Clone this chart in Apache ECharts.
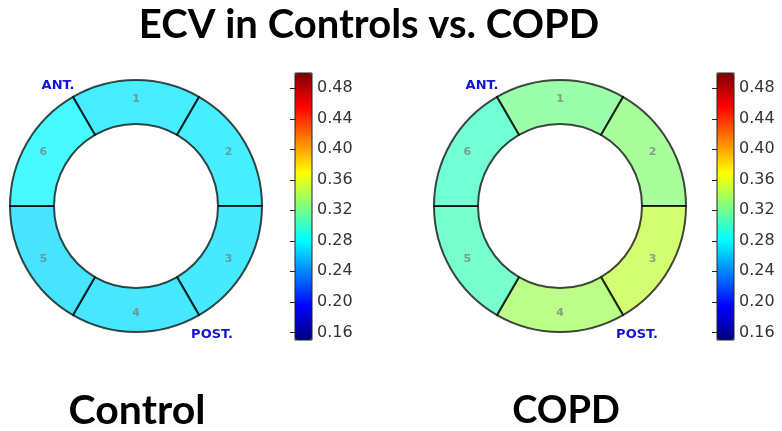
<!DOCTYPE html>
<html>
<head>
<meta charset="utf-8">
<script src="https://cdn.jsdelivr.net/npm/echarts@6/dist/echarts.min.js"></script>
<style>html,body{margin:0;padding:0;background:#fff}#c{width:782px;height:431px}</style>
</head>
<body>
<div id="c"></div>
<script>
// ---- data ----
var segments = ['1', '2', '3', '4', '5', '6'];
var controlECV = [0.272, 0.273, 0.271, 0.270, 0.268, 0.279];
var copdECV = [0.322, 0.328, 0.348, 0.337, 0.305, 0.302];
var tickLabels = [0.16, 0.20, 0.24, 0.28, 0.32, 0.36, 0.40, 0.44, 0.48];
var scaleMin = 0.15, scaleMax = 0.50;
var panelTitles = ['Control', 'COPD'];
var mainTitle = 'ECV in Controls vs. COPD';

var jet = ['#00007f', '#0000ff', '#007fff', '#00ffff', '#7fff7f', '#ffff00', '#ff7f00', '#ff0000', '#7f0000'];

function src(vals) {
  var rows = [['seg', 'w', 'ecv']];
  for (var i = 0; i < segments.length; i++) rows.push([segments[i], 1, vals[i]]);
  return rows;
}

var panels = [
  { cx: 136, cy: 206, barLeft: 295, data: controlECV, titleX: 137 },
  { cx: 560, cy: 206, barLeft: 717, data: copdECV, titleX: 566 }
];
var barTop = 73, barH = 267, barW = 17;

var option = {
  animation: false,
  dataset: panels.map(function (p) { return { source: src(p.data) }; }),
  grid: panels.map(function (p) {
    return { left: p.barLeft, top: barTop, width: barW, height: barH, show: true,
             borderColor: '#222', borderWidth: 1, backgroundColor: 'transparent', z: 10 };
  }),
  xAxis: panels.map(function (p, i) {
    return { type: 'value', gridIndex: i, show: false, min: 0, max: 1 };
  }),
  yAxis: panels.map(function (p, i) {
    return {
      type: 'value', gridIndex: i, position: 'right', min: scaleMin, max: scaleMax,
      splitLine: { show: false },
      axisLine: { show: false },
      axisTick: { show: true, inside: true, length: 5, customValues: tickLabels, lineStyle: { color: '#222', width: 1 } },
      axisLabel: { show: true, margin: 5, customValues: tickLabels, color: '#333', fontSize: 16,
                   fontFamily: 'DejaVu Sans', formatter: function (v) { return v.toFixed(2); } },
      z: 10
    };
  }),
  visualMap: panels.map(function (p, i) {
    return {
      type: 'continuous', min: scaleMin, max: scaleMax, seriesIndex: i, dimension: 2,
      left: p.barLeft, top: barTop, itemWidth: barW, itemHeight: barH, padding: 0,
      calculable: false, realtime: false, hoverLink: false, text: null, showLabel: false,
      inRange: { color: jet }
    };
  }),
  series: panels.map(function (p, i) {
    return {
      type: 'pie', datasetIndex: i, center: [p.cx, p.cy], radius: [82, 126],
      startAngle: 120, clockwise: true, silent: true,
      encode: { itemName: 0, value: 1 },
      itemStyle: { borderColor: '#000', borderWidth: 2, opacity: 0.72 },
      label: { show: true, position: 'inside', formatter: '{b}', color: '#707c7c',
               fontSize: 11, fontWeight: 'bold', fontFamily: 'DejaVu Sans' },
      labelLine: { show: false },
      emphasis: { disabled: true }
    };
  }),
  graphic: [
    { type: 'text', x: 369, y: 25, style: { text: mainTitle, fill: '#000', font: 'bold 40px Lato', textAlign: 'center', textVerticalAlign: 'middle' } },
    { type: 'text', x: panels[0].titleX, y: 411, style: { text: panelTitles[0], fill: '#000', font: 'bold 41px Lato', textAlign: 'center', textVerticalAlign: 'middle' } },
    { type: 'text', x: panels[1].titleX, y: 411, style: { text: panelTitles[1], fill: '#000', font: 'bold 38px Lato', textAlign: 'center', textVerticalAlign: 'middle' } },
    { type: 'text', x: 58, y: 86, style: { text: 'ANT.', fill: '#1414d0', font: 'bold 13px "DejaVu Sans"', textAlign: 'center', textVerticalAlign: 'middle' } },
    { type: 'text', x: 212, y: 335, style: { text: 'POST.', fill: '#1414d0', font: 'bold 13px "DejaVu Sans"', textAlign: 'center', textVerticalAlign: 'middle' } },
    { type: 'text', x: 482, y: 86, style: { text: 'ANT.', fill: '#1414d0', font: 'bold 13px "DejaVu Sans"', textAlign: 'center', textVerticalAlign: 'middle' } },
    { type: 'text', x: 637, y: 335, style: { text: 'POST.', fill: '#1414d0', font: 'bold 13px "DejaVu Sans"', textAlign: 'center', textVerticalAlign: 'middle' } }
  ]
};

var chart = echarts.init(document.getElementById('c'), null, { renderer: 'canvas' });
chart.setOption(option);
</script>
</body>
</html>
